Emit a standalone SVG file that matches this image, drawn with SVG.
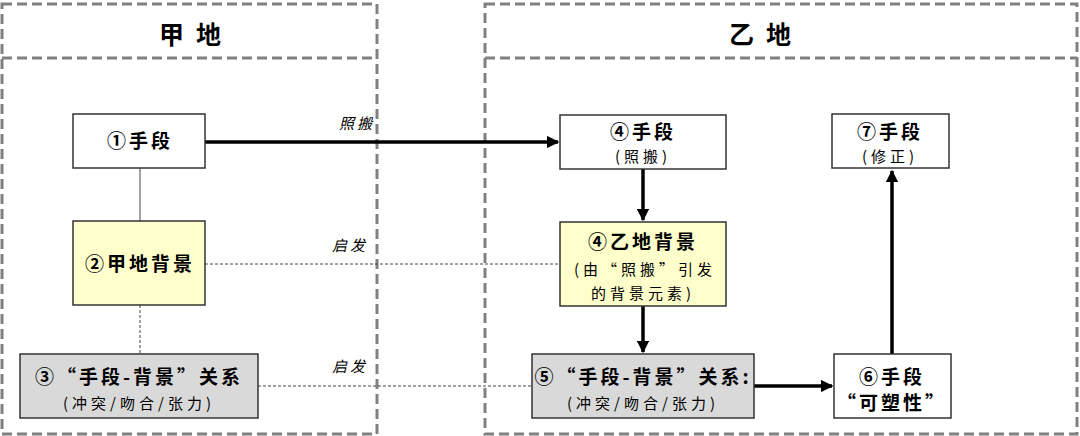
<svg xmlns="http://www.w3.org/2000/svg" width="1080" height="436" viewBox="0 0 1080 436">
<style>
.reg{fill:none;stroke:#808080;stroke-width:3;stroke-dasharray:10,5}
.box{stroke:#333;stroke-width:1.5}
.t{font-family:"Noto Sans CJK SC",sans-serif;font-weight:bold;font-size:19px;text-anchor:middle;fill:#000;letter-spacing:3px}
.s{font-family:"Noto Sans CJK SC",sans-serif;font-size:15px;text-anchor:middle;fill:#000;letter-spacing:4px}
.h{font-family:"Noto Sans CJK SC",sans-serif;font-weight:bold;font-size:25px;text-anchor:middle;fill:#000;letter-spacing:12px}
.lb{font-family:"Noto Sans CJK SC",sans-serif;font-style:italic;font-size:15px;text-anchor:middle;fill:#000;letter-spacing:3px}
.a{stroke:#000;stroke-width:3.5;fill:none;marker-end:url(#ar)}
</style>
<defs><marker id="ar" viewBox="0 0 10 10" refX="9" refY="5" markerWidth="3.6" markerHeight="3.6" orient="auto"><path d="M0,0L10,5L0,10z" fill="#000"/></marker></defs>
<rect width="1080" height="436" fill="#fff"/>
<g id="regions">
<rect class="reg" x="2" y="4" width="375" height="430"/><line class="reg" x1="2" y1="58" x2="377" y2="58"/>
<rect class="reg" x="485" y="4" width="592" height="430"/><line class="reg" x1="485" y1="58" x2="1077" y2="58"/>
<text class="h" x="196" y="44">甲地</text><text class="h" x="766" y="44">乙地</text>
</g>
<g id="connectors">
<line x1="140" y1="168" x2="140" y2="221" stroke="#444" stroke-width="1"/>
<line x1="140" y1="305" x2="140" y2="354" stroke="#444" stroke-width="1" stroke-dasharray="3,2"/>
<line x1="205" y1="264" x2="560" y2="264" stroke="#444" stroke-width="1" stroke-dasharray="3,2"/>
<line x1="258" y1="386" x2="532" y2="386" stroke="#444" stroke-width="1" stroke-dasharray="3,2"/>
<line class="a" x1="205" y1="142" x2="558" y2="142"/>
<line class="a" x1="643" y1="169" x2="643" y2="220"/>
<line class="a" x1="643" y1="306" x2="643" y2="352"/>
<line class="a" x1="754" y1="386" x2="832" y2="386"/>
<line class="a" x1="892" y1="354" x2="892" y2="171"/>
<text class="lb" x="357" y="129">照搬</text>
<text class="lb" x="350" y="251">启发</text>
<text class="lb" x="350" y="372">启发</text>
</g>
<g id="n1"><rect class="box" x="73" y="114" width="132" height="54" fill="#fff"/><text class="t" x="140" y="148">①手段</text></g>
<g id="n2"><rect class="box" x="73" y="221" width="132" height="84" fill="#ffffcc"/><text class="t" x="140" y="271">②甲地背景</text></g>
<g id="n3"><rect class="box" x="20" y="354" width="238" height="64" fill="#d9d9d9"/><text class="t" x="139" y="384">③“手段-背景”关系</text><text class="s" x="139" y="409">(冲突/吻合/张力)</text></g>
<g id="n4"><rect class="box" x="560" y="115" width="166" height="54" fill="#fff"/><text class="t" x="643" y="139">④手段</text><text class="s" x="643" y="162">(照搬)</text></g>
<g id="n4b"><rect class="box" x="560" y="222" width="166" height="84" fill="#ffffcc"/><text class="t" x="643" y="249">④乙地背景</text><text class="s" x="645" y="275">(由“照搬”引发</text><text class="s" x="643" y="299">的背景元素)</text></g>
<g id="n5"><rect class="box" x="532" y="354" width="222" height="64" fill="#d9d9d9"/><text class="t" x="643" y="384">⑤“手段-背景”关系:</text><text class="s" x="643" y="409">(冲突/吻合/张力)</text></g>
<g id="n7"><rect class="box" x="832" y="114" width="117" height="54" fill="#fff"/><text class="t" x="890" y="139">⑦手段</text><text class="s" x="890" y="162">(修正)</text></g>
<g id="n6"><rect class="box" x="834" y="354" width="117" height="64" fill="#fff"/><text class="t" x="892" y="384">⑥手段</text><text class="t" x="892" y="410">“可塑性”</text></g>
</svg>
